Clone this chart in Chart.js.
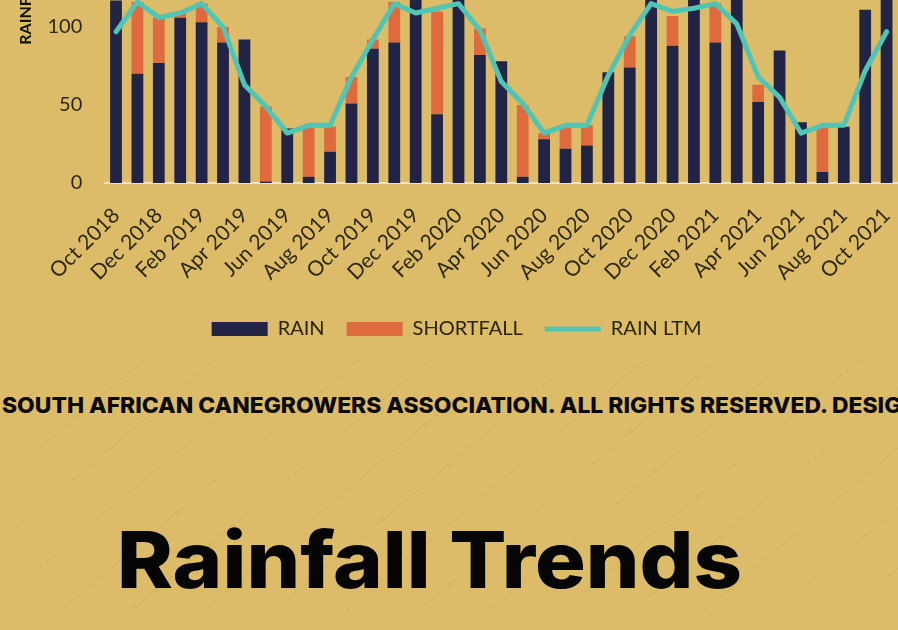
<!DOCTYPE html>
<html><head><meta charset="utf-8">
<script src="https://cdn.jsdelivr.net/npm/chart.js@4/dist/chart.umd.min.js"></script>
<style>
html,body{margin:0;padding:0;width:898px;height:630px;overflow:hidden;background:#DCBC68;}
#wrap{position:absolute;left:0;top:-230px;width:898px;height:600px;}
#hatch{position:absolute;left:0;top:360px;width:898px;height:250px;background:repeating-linear-gradient(140deg, rgba(150,110,30,0.12) 0 1px, rgba(0,0,0,0) 1px 46px);}
#foot{position:absolute;left:2px;top:393px;white-space:nowrap;font-family:Inter, sans-serif;font-weight:800;font-size:22px;line-height:24px;color:#0a0a0a;transform-origin:0 0;}
#title{position:absolute;left:117px;top:521px;white-space:nowrap;font-family:Inter, sans-serif;font-weight:800;font-size:78px;line-height:1;color:#050505;transform-origin:0 0;}
</style></head>
<body>
<div id="hatch"></div>
<div id="wrap"><canvas id="c" width="898" height="600"></canvas></div>
<div id="foot"><span id="footA">SOUTH AFRICAN CANEGROWERS ASSOCIATION. ALL RIGHTS RESERVED.</span> DESIGNED BY</div>
<div id="title"><span id="titleA">Rainfall Trends</span></div>
<script>
const months = ['Oct 2018','Nov 2018','Dec 2018','Jan 2019','Feb 2019','Mar 2019','Apr 2019','May 2019','Jun 2019','Jul 2019','Aug 2019','Sep 2019',
  'Oct 2019','Nov 2019','Dec 2019','Jan 2020','Feb 2020','Mar 2020','Apr 2020','May 2020','Jun 2020','Jul 2020','Aug 2020','Sep 2020',
  'Oct 2020','Nov 2020','Dec 2020','Jan 2021','Feb 2021','Mar 2021','Apr 2021','May 2021','Jun 2021','Jul 2021','Aug 2021','Sep 2021','Oct 2021'];
const rain = [117,70,77,106,103,90,92,1,35,4,20,51,86,90,135,44,128,82,78,4,28,22,24,71,74,125,88,140,90,122,52,85,39,7,36,111,130];
const shortfall = [0,46,29,3,12,10,0,48,0,33,16,17,6,26,0,66,0,17,0,46,4,15,13,0,20,0,19,0,25,0,11,0,0,29,0,0,0];
const rainLTM = [97,116,106,109,115,100,63,49,32,37,37,68,92,115,109,112,115,98,65,51,32,37,37,69,95,115,110,112,115,102,68,55,32,37,37,72,97];
const yTicks = {min:0, max:250, step:50};

const chart = new Chart(document.getElementById('c'), {
  type:'bar',
  data:{
    labels: months,
    datasets:[
      {label:'RAIN', data:rain, backgroundColor:'#222446', stack:'s', order:2, categoryPercentage:1, barPercentage:0.55, pointStyle:'rect', borderWidth:0},
      {label:'SHORTFALL', data:shortfall, backgroundColor:'#DE6A3E', stack:'s', order:2, categoryPercentage:1, barPercentage:0.55, pointStyle:'rect', borderWidth:0},
      {label:'RAIN LTM', type:'line', data:rainLTM, borderColor:'#4FC5B6', backgroundColor:'#4FC5B6', borderWidth:5, pointRadius:0, tension:0, stack:'l', order:1, pointStyle:'line', borderJoinStyle:'round', borderCapStyle:'round'}
    ]
  },
  options:{
    responsive:false, animation:false,
    layout:{padding:{left:16,right:0.7,top:23,bottom:21}},
    plugins:{
      legend:{position:'bottom', labels:{usePointStyle:true, pointStyleWidth:56, boxHeight:14, padding:22, color:'#2a2410', font:{family:'Lato', size:20}, sort:(a,b)=>a.datasetIndex-b.datasetIndex}},
      tooltip:{enabled:false}
    },
    scales:{
      x:{stacked:true, grid:{display:false, drawTicks:false}, border:{display:true, color:'#EFE4C6', width:2},
         ticks:{autoSkip:false, maxRotation:45, minRotation:45, padding:20, color:'#2e2814', font:{family:'Lato', size:21},
                callback:(v,i)=> i%2===0 ? months[i] : ''},
         afterFit:(s)=>{s.height=114; s.paddingLeft=0; s.paddingRight=0;}},
      y:{stacked:true, min:yTicks.min, max:yTicks.max, grid:{display:false, drawTicks:false}, border:{display:false},
         ticks:{stepSize:yTicks.step, padding:23, color:'#2e2814', font:{family:'Lato', size:20}},
         title:{display:true, text:'RAINFALL (mm)', color:'#111', font:{family:'Lato', size:16, weight:'bold'}, padding:0},
         afterFit:(s)=>{s.width=89.3; s.paddingTop=0; s.paddingBottom=0;}}
    }
  }
});
const fa = document.getElementById('footA').getBoundingClientRect().width;
document.getElementById('foot').style.transform = 'scaleX(' + (825/fa) + ')';
const ta = document.getElementById('titleA').getBoundingClientRect().width;
document.getElementById('title').style.transform = 'scaleX(' + (625/ta) + ')';
</script>
</body></html>
